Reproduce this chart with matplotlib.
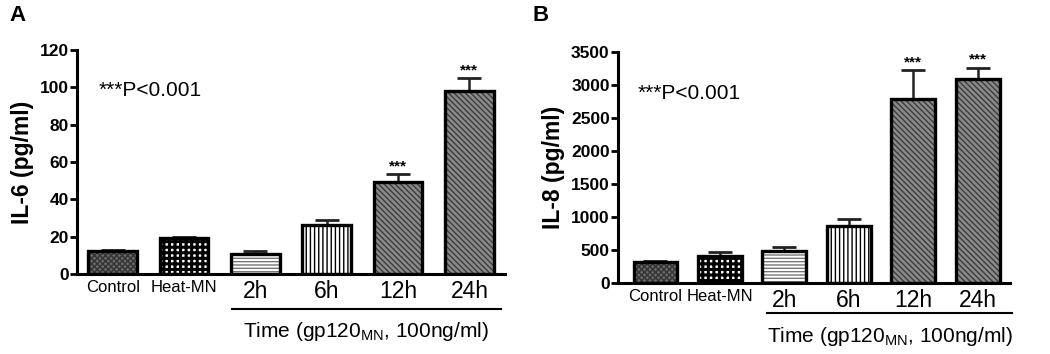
import numpy as np
import matplotlib
matplotlib.use('Agg')
import matplotlib.pyplot as plt
import matplotlib.transforms as mtransforms

plt.rcParams['font.family'] = ['Liberation Sans', 'DejaVu Sans']
plt.rcParams['mathtext.fontset'] = 'custom'
plt.rcParams['mathtext.rm'] = 'Liberation Sans'

# ── Data ─────────────────────────────────────────────────────────────────────
categories = ['Control', 'Heat-MN', '2h', '6h', '12h', '24h']
il6_mean = [12.3, 19.5, 10.5, 26, 49, 98]
il6_err = [0.3, 0.5, 2, 3, 4.5, 7]
il8_mean = [320, 410, 490, 855, 2790, 3090]
il8_err = [20, 60, 50, 120, 430, 165]
significant = [False, False, False, False, True, True]

# fill, hatch, hatch colour, hatch width for each bar
faces = ['#6a6a6a', 'white', 'white', 'white', '#8a8a8a', '#8a8a8a']
hatches = ['xxxxxx', '+++', '-----', '||||', '\\\\\\\\\\\\', '\\\\\\\\\\\\']
hatch_cols = ['#333333', 'black', '#777777', 'black', '#3c3c3c', '#3c3c3c']
hatch_lw = [1.0, 2.2, 1.0, 1.0, 1.0, 1.0]

fig = plt.figure(figsize=(10.5, 3.54), dpi=100)
axA = fig.add_axes([0.0733, 0.226, 0.4077, 0.633])
axB = fig.add_axes([0.5886, 0.2006, 0.3734, 0.6534])


def draw_panel(ax, means, errs, ymax, ystep, ylabel, xlim, star_off, line_x, line_y):
    x = np.arange(len(categories))
    for i in range(len(categories)):
        with plt.rc_context({'hatch.linewidth': hatch_lw[i]}):
            ax.bar(x[i], means[i], 0.68, color=faces[i], hatch=hatches[i],
                   edgecolor=hatch_cols[i], linewidth=0, zorder=2)
    ax.bar(x, means, 0.68, fill=False, edgecolor='black', linewidth=2.4, zorder=3)
    ax.errorbar(x, means, yerr=[np.zeros(len(x)), errs], fmt='none',
                ecolor='#222222', elinewidth=1.8, capsize=8.5, capthick=2.0, zorder=1)
    for i in range(len(x)):
        if significant[i]:
            ax.text(x[i], means[i] + errs[i] + star_off, '***', ha='center', va='bottom',
                    fontsize=11, fontweight='bold')

    ax.set_xlim(*xlim)
    ax.set_ylim(0, ymax)
    ax.set_yticks(np.arange(0, ymax + 1, ystep))
    ax.spines['top'].set_visible(False)
    ax.spines['right'].set_visible(False)
    ax.spines['left'].set_linewidth(2.2)
    ax.spines['bottom'].set_linewidth(2.2)
    ax.tick_params(axis='y', length=5, width=2, labelsize=12.5, pad=1)
    for lab in ax.get_yticklabels():
        lab.set_fontweight('bold')
    ax.set_xticks(x)
    ax.set_xticklabels(categories)
    ax.tick_params(axis='x', length=0, pad=4)
    for i, lab in enumerate(ax.get_xticklabels()):
        lab.set_fontsize(12 if i < 2 else 16.5)
    ax.set_ylabel(ylabel, fontsize=16.5, fontweight='bold', labelpad=4)

    trans = mtransforms.blended_transform_factory(ax.transData, ax.transAxes)
    ax.plot(line_x, [line_y, line_y], color='black', lw=1.5, transform=trans, clip_on=False)
    ax.text(np.mean(line_x), line_y - 0.05, r'Time (gp120$_{\mathrm{MN}}$, 100ng/ml)',
            transform=trans, ha='center', va='top', fontsize=15)
    ax.text(0.05, 0.82, '***P<0.001', transform=ax.transAxes, fontsize=15, va='center')


draw_panel(axA, il6_mean, il6_err, 120, 20, 'IL-6 (pg/ml)', (-0.5, 5.5), 0.5,
           [1.67, 5.44], -0.156)
draw_panel(axB, il8_mean, il8_err, 3500, 500, 'IL-8 (pg/ml)', (-0.58, 5.5), 15,
           [1.73, 5.53], -0.13)

fig.text(0.009, 0.955, 'A', fontsize=16, fontweight='bold', va='center')
fig.text(0.507, 0.955, 'B', fontsize=16, fontweight='bold', va='center')

fig.savefig('out.png', dpi=100)
